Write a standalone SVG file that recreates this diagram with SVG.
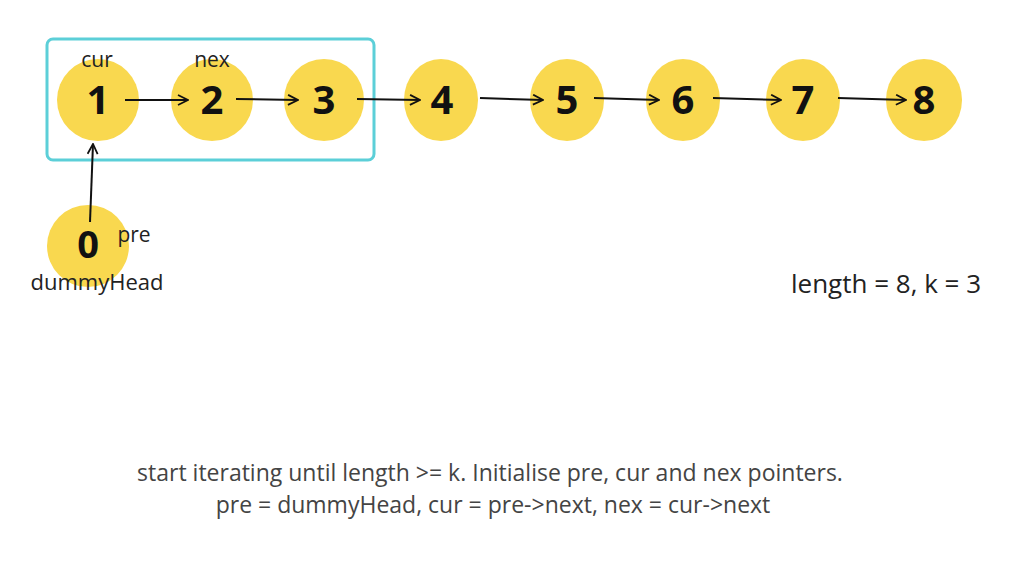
<svg xmlns="http://www.w3.org/2000/svg" width="1024" height="576" viewBox="0 0 1024 576">
<style>
.node{fill:#f9d84f}
.num{font-family:"Open Sans","Liberation Sans",sans-serif;font-weight:700;font-size:40px;fill:#111;text-anchor:middle}
.lbl{font-family:"Open Sans","Liberation Sans",sans-serif;font-size:21px;fill:#222;text-anchor:middle}
.cap{font-family:"Open Sans","Liberation Sans",sans-serif;font-size:23px;fill:#444;text-anchor:middle}
.edge{stroke:#111;stroke-width:2;fill:none;marker-end:url(#ah)}
</style>
<defs>
<marker id="ah" viewBox="0 0 12 12" refX="11" refY="6" markerWidth="12" markerHeight="12" markerUnits="userSpaceOnUse" orient="auto">
<path d="M1,1 L11,6 L1,11" fill="none" stroke="#111" stroke-width="1.8"/>
</marker>
</defs>
<rect width="1024" height="576" fill="#ffffff"/>
<rect id="group-box" x="47" y="39" width="327" height="121" rx="6" fill="none" stroke="#5ccfd8" stroke-width="3"/>
<g id="n1"><ellipse class="node" cx="98" cy="100" rx="41" ry="41"/><text class="num" x="98" y="114">1</text></g>
<g id="n2"><ellipse class="node" cx="212" cy="100" rx="41" ry="41"/><text class="num" x="212" y="114">2</text></g>
<g id="n3"><ellipse class="node" cx="324" cy="100" rx="40" ry="41"/><text class="num" x="324" y="114">3</text></g>
<g id="n4"><ellipse class="node" cx="441" cy="100" rx="37" ry="41"/><text class="num" x="442" y="114">4</text></g>
<g id="n5"><ellipse class="node" cx="567" cy="100" rx="37" ry="41"/><text class="num" x="567" y="114">5</text></g>
<g id="n6"><ellipse class="node" cx="683" cy="100" rx="37" ry="41"/><text class="num" x="683" y="114">6</text></g>
<g id="n7"><ellipse class="node" cx="803" cy="100" rx="37" ry="41"/><text class="num" x="803" y="114">7</text></g>
<g id="n8"><ellipse class="node" cx="924" cy="100" rx="38" ry="41"/><text class="num" x="924" y="114">8</text></g>
<g id="n0"><circle class="node" cx="88" cy="246" r="41"/><text class="num" x="88" y="258" style="font-size:38px">0</text></g>
<g id="connectors">
<path class="edge" d="M125,100 L188,100"/>
<path class="edge" d="M236,99 L298,100"/>
<path class="edge" d="M357,99 L420,100"/>
<path class="edge" d="M480,98 L543,100"/>
<path class="edge" d="M594,98 L659,100"/>
<path class="edge" d="M713,98 L781,100"/>
<path class="edge" d="M838,98 L906,100"/>
<path class="edge" d="M90,222 L93,144"/>
</g>
<g id="labels">
<text class="lbl" x="97" y="67">cur</text>
<text class="lbl" x="212" y="67">nex</text>
<text class="lbl" x="134" y="242">pre</text>
<text class="lbl" x="97" y="290" style="font-size:22px">dummyHead</text>
<text class="lbl" x="886" y="293" style="font-size:26px">length = 8, k = 3</text>
<text class="cap" x="490" y="481">start iterating until length &gt;= k. Initialise pre, cur and nex pointers.</text>
<text class="cap" x="493" y="513">pre = dummyHead, cur = pre-&gt;next, nex = cur-&gt;next</text>
</g>
</svg>
